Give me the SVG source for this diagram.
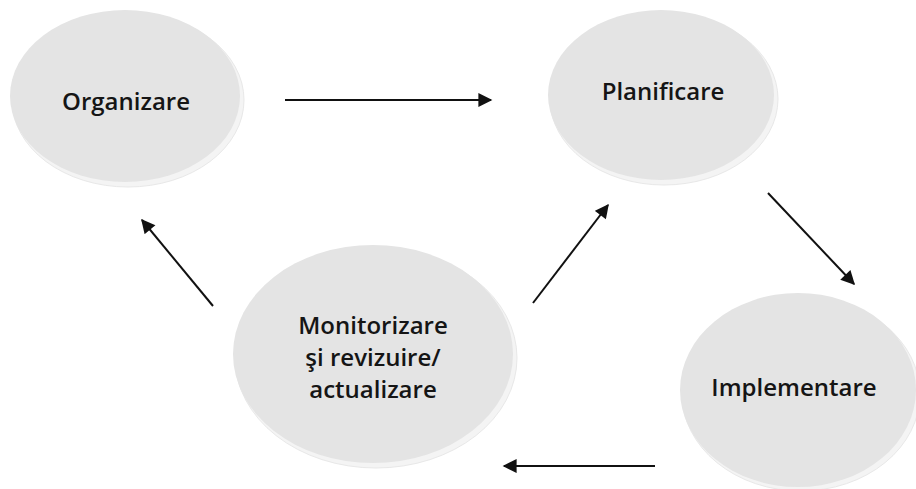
<svg xmlns="http://www.w3.org/2000/svg" width="916" height="489" viewBox="0 0 916 489">
<style>
.sh{fill:#f4f4f4;stroke:#e8e8e8;stroke-width:1}
.el{fill:#e4e4e4}
.t{font-family:"Open Sans","Liberation Sans",sans-serif;font-size:24px;font-weight:600;fill:#151515;text-anchor:middle}
.c{stroke:#111;stroke-width:2;fill:none;marker-end:url(#ah)}
</style>
<defs>
<marker id="ah" viewBox="0 0 10 10" refX="9" refY="5" markerWidth="7.5" markerHeight="7" orient="auto" markerUnits="strokeWidth">
<path d="M0,0 L10,5 L0,10 z" fill="#111"/>
</marker>
</defs>
<rect width="916" height="489" fill="#fff"/>
<g id="organizare">
<ellipse class="sh" cx="128" cy="100" rx="116" ry="87"/>
<ellipse class="el" cx="125" cy="96" rx="115" ry="86"/>
<text class="t" x="126" y="110">Organizare</text>
</g>
<g id="planificare">
<ellipse class="sh" cx="664" cy="99" rx="114" ry="86"/>
<ellipse class="el" cx="661" cy="95" rx="113" ry="85"/>
<text class="t" x="663" y="100">Planificare</text>
</g>
<g id="monitorizare">
<ellipse class="sh" cx="376" cy="358" rx="141" ry="110"/>
<ellipse class="el" cx="373" cy="354" rx="140" ry="109"/>
<text class="t" x="373" y="334">Monitorizare</text>
<text class="t" x="373" y="366">şi revizuire/</text>
<text class="t" x="373" y="398">actualizare</text>
</g>
<g id="implementare">
<ellipse class="sh" cx="801" cy="394" rx="119" ry="97"/>
<ellipse class="el" cx="798" cy="390" rx="118" ry="97"/>
<text class="t" x="794" y="396">Implementare</text>
</g>
<g id="connectors">
<line class="c" x1="285" y1="100" x2="491" y2="100"/>
<line class="c" x1="768" y1="193" x2="854" y2="284"/>
<line class="c" x1="655" y1="466" x2="504" y2="466"/>
<line class="c" x1="533" y1="303" x2="608" y2="205"/>
<line class="c" x1="213" y1="306" x2="142" y2="220"/>
</g>
</svg>
